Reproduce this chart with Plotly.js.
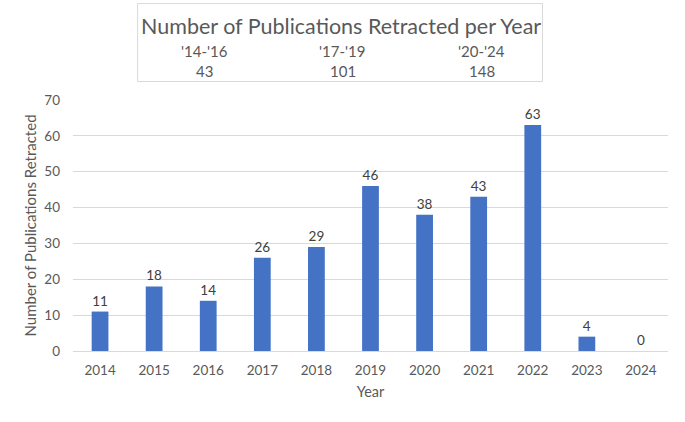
<!DOCTYPE html>
<html>
<head>
<meta charset="utf-8">
<script src="https://cdn.plot.ly/plotly-3.0.1.min.js"></script>
<style>html,body{margin:0;padding:0;background:#fff;}#chart{width:685px;height:422px;}</style>
</head>
<body>
<div id="chart"></div>
<script>
const years = ['2014','2015','2016','2017','2018','2019','2020','2021','2022','2023','2024'];
const retracted = [11, 18, 14, 26, 29, 46, 38, 43, 63, 4, 0];
const periodLabels = ["'14-'16", "'17-'19", "'20-'24"];
const periodTotals = [43, 101, 148];
const chartTitle = 'Number of Publications Retracted per Year';

const FONT = 'Lato, "Open Sans", sans-serif';
const GREY = '#595959';

const L = 73.4, R = 668.5, T = 99.5, B = 350.7;
const W = 685, H = 422;
const px = x => (x - L) / (R - L);
const py = y => (B - y) / (B - T);

const annotations = [
  {text: chartTitle, x: px(341), y: py(25), xref:'paper', yref:'paper', showarrow:false,
   font:{family:FONT, size:21.5, color:GREY}, xanchor:'center', yanchor:'middle'}
];
const colX = [205, 343, 482];
periodLabels.forEach((t,i)=>{
  annotations.push({text:t, x:px(colX[i]), y:py(50), xref:'paper', yref:'paper', showarrow:false,
    font:{family:FONT, size:15, color:GREY}, xanchor:'center', yanchor:'middle'});
  annotations.push({text:String(periodTotals[i]), x:px(colX[i]), y:py(70), xref:'paper', yref:'paper', showarrow:false,
    font:{family:FONT, size:15, color:GREY}, xanchor:'center', yanchor:'middle'});
});

const trace = {
  type:'bar', x: years, y: retracted,
  marker:{color:'#4472C4'},
  text: retracted.map(String), textposition:'outside', cliponaxis:false,
  textfont:{family:FONT, size:13.5, color:'#404040'},
  hoverinfo:'x+y'
};

const layout = {
  width: W, height: H,
  margin:{l:L, r:W-R, t:T, b:H-B, pad:0},
  paper_bgcolor:'#fff', plot_bgcolor:'#fff',
  showlegend:false,
  bargap:0.69,
  font:{family:FONT, color:GREY, size:13},
  xaxis:{type:'category', tickfont:{family:FONT, size:13.5, color:GREY}, showgrid:false,
    showline:true, linecolor:'#d9d9d9', linewidth:1, ticks:'', ticklen:0, ticklabelstandoff:7,
    title:{text:'Year', font:{family:FONT, size:14.5, color:GREY}, standoff:9}},
  yaxis:{range:[0,70], dtick:10, tick0:0, showgrid:true, gridcolor:'#d9d9d9', gridwidth:1,
    zeroline:true, zerolinecolor:'#d9d9d9', showline:false, ticks:'', ticklen:0,
    tickfont:{family:FONT, size:13.5, color:GREY}, ticklabelstandoff:12,
    title:{text:'Number of Publications Retracted', font:{family:FONT, size:15, color:GREY}, standoff:4}},
  shapes:[{type:'rect', xref:'paper', yref:'paper', x0:px(138), x1:px(543), y0:py(81), y1:py(3),
    line:{color:'#d9d9d9', width:1}, fillcolor:'rgba(0,0,0,0)'}],
  annotations: annotations
};

Plotly.newPlot('chart', [trace], layout, {displayModeBar:false, staticPlot:true});
</script>
</body>
</html>
